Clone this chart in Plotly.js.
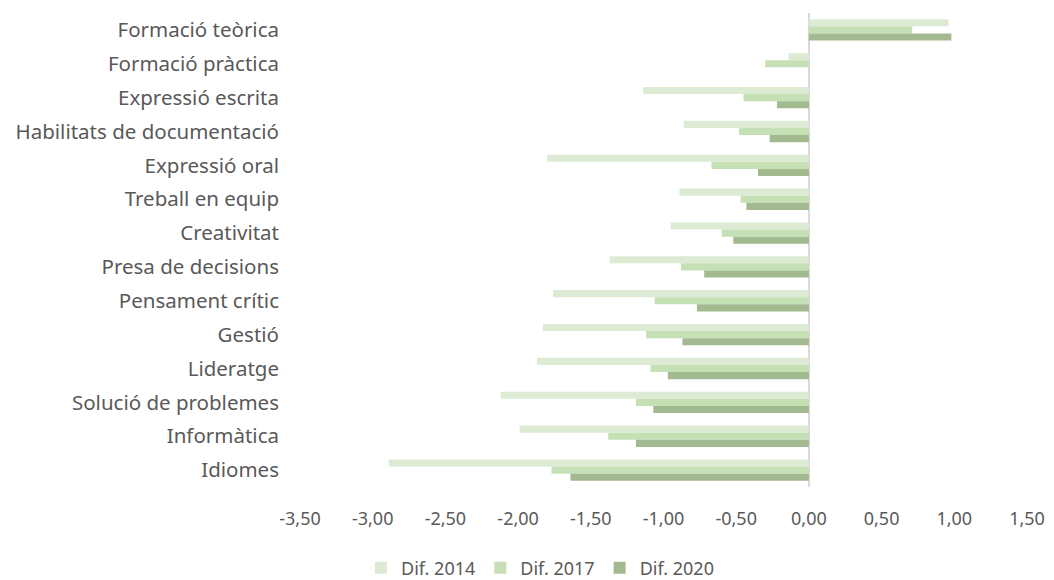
<!DOCTYPE html>
<html>
<head>
<meta charset="utf-8">
<script src="https://cdn.plot.ly/plotly-3.0.1.min.js"></script>
<style>html,body{margin:0;padding:0;background:#fff;}#chart{width:1054px;height:580px;}</style>
</head>
<body>
<div id="chart"></div>
<script>
const categories = ["Formació teòrica","Formació pràctica","Expressió escrita","Habilitats de documentació","Expressió oral","Treball en equip","Creativitat","Presa de decisions","Pensament crític","Gestió","Lideratge","Solució de problemes","Informàtica","Idiomes"];
const dif2014 = [0.96,-0.14,-1.14,-0.86,-1.80,-0.89,-0.95,-1.37,-1.76,-1.83,-1.87,-2.12,-1.99,-2.89];
const dif2017 = [0.71,-0.30,-0.45,-0.48,-0.67,-0.47,-0.60,-0.88,-1.06,-1.12,-1.09,-1.19,-1.38,-1.77];
const dif2020 = [0.98,0.00,-0.22,-0.27,-0.35,-0.43,-0.52,-0.72,-0.77,-0.87,-0.97,-1.07,-1.19,-1.64];
const seriesNames = ["Dif. 2014","Dif. 2017","Dif. 2020"];
const tickVals = [-3.5,-3,-2.5,-2,-1.5,-1,-0.5,0,0.5,1,1.5];
const tickLabels = ["-3,50","-3,00","-2,50","-2,00","-1,50","-1,00","-0,50","0,00","0,50","1,00","1,50"];

const colors = ["#deebd4","#c5e0b4","#a3b98f"];
const data = [dif2014, dif2017, dif2020].map((v,i)=>({
  type:'bar', orientation:'h', y:categories, x:v, name:seriesNames[i],
  marker:{color:colors[i]}, hoverinfo:'x+name'
}));
const fontFam = '"Noto Sans", "Liberation Sans", sans-serif';
const layout = {
  width:1054, height:580,
  margin:{l:300, r:27, t:13, b:93, autoexpand:false},
  barmode:'group', bargap:0.37, bargroupgap:0,
  separators:',.',
  paper_bgcolor:'#fff', plot_bgcolor:'#fff',
  font:{family:fontFam, color:'#595959', size:18},
  xaxis:{range:[-3.5,1.5], tickvals:tickVals, ticktext:tickLabels, showgrid:false,
    zeroline:true, zerolinecolor:'#d9d9d9', zerolinewidth:2, showline:false,
    ticks:'', ticklabelstandoff:19, tickfont:{size:18, color:'#595959'}, fixedrange:true, automargin:false},
  yaxis:{autorange:'reversed', showgrid:false, zeroline:false, showline:false, ticks:'',
    ticklabelstandoff:20, tickfont:{size:20.5, color:'#595959'}, fixedrange:true, automargin:false},
  legend:{orientation:'h', x:540/1054, xref:'container', xanchor:'center', y:12/580, yref:'container', yanchor:'middle',
    font:{size:18, color:'#595959'}, traceorder:'normal', itemwidth:20},
  showlegend:true
};
Plotly.newPlot('chart', data, layout, {displayModeBar:false, staticPlot:true});
</script>
</body>
</html>
